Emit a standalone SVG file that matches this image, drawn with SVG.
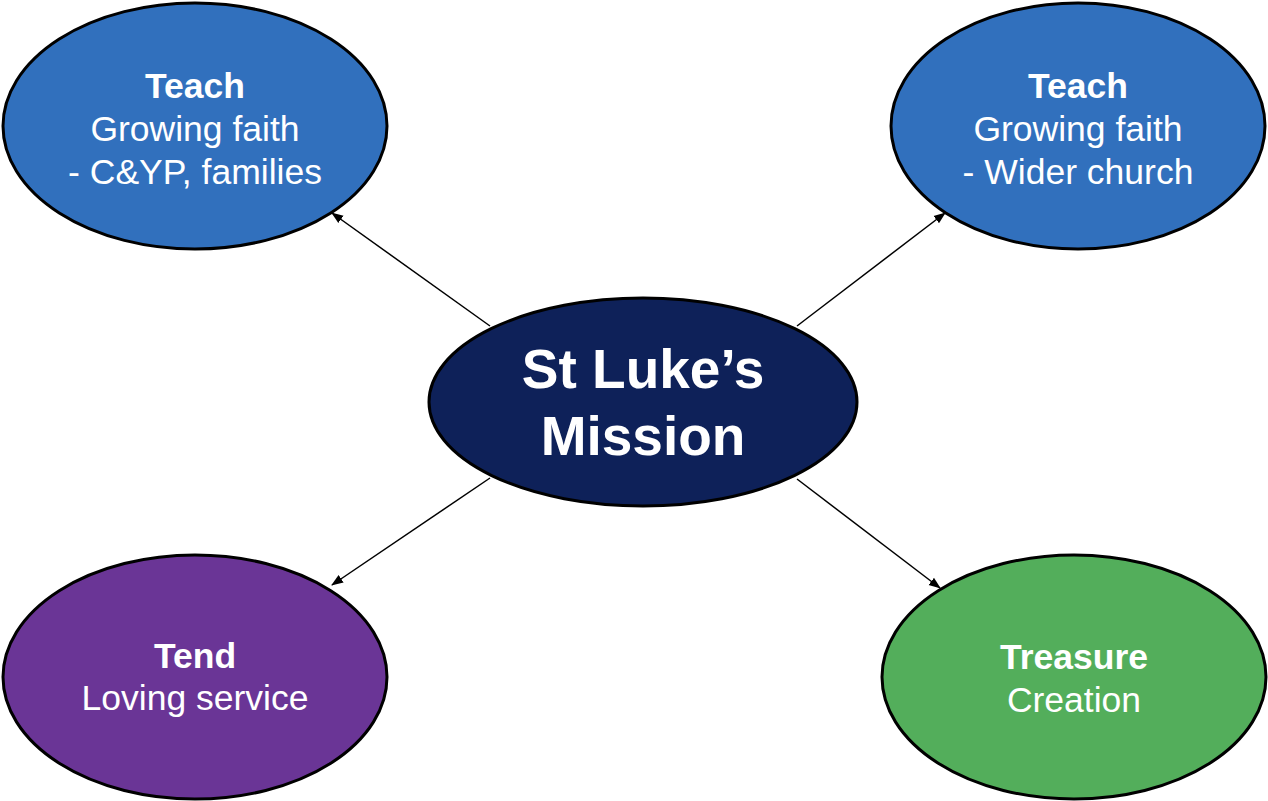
<svg xmlns="http://www.w3.org/2000/svg" width="1268" height="801" viewBox="0 0 1268 801">
<defs>
<style>
.node{stroke:#000;stroke-width:3}
.t{font-family:"Liberation Sans",Arial,sans-serif;fill:#fff;text-anchor:middle}
.b{font-weight:bold;font-size:35.5px}
.r{font-size:35.5px}
.c{font-weight:bold;font-size:55px}
.conn{stroke:#000;stroke-width:1.5;fill:none;marker-end:url(#ah)}
</style>
<marker id="ah" markerWidth="12" markerHeight="12" refX="11" refY="6" orient="auto" markerUnits="userSpaceOnUse" viewBox="0 0 12 12">
<path d="M0,1.5 L12,6 L0,10.5 Z" fill="#000"/>
</marker>
</defs>
<rect width="1268" height="801" fill="#fff"/>
<g id="connectors">
<line class="conn" x1="490" y1="326" x2="332" y2="213"/>
<line class="conn" x1="797" y1="326" x2="945" y2="213"/>
<line class="conn" x1="490" y1="478" x2="332" y2="585"/>
<line class="conn" x1="797" y1="479" x2="940" y2="588"/>
</g>
<g id="teach-left">
<ellipse class="node" cx="195" cy="126" rx="192" ry="123" fill="#3170BD"/>
<text class="t b" x="195" y="98">Teach</text>
<text class="t r" x="195" y="141">Growing faith</text>
<text class="t r" x="195" y="184">- C&amp;YP, families</text>
</g>
<g id="teach-right">
<ellipse class="node" cx="1078" cy="126" rx="187" ry="123" fill="#3170BD"/>
<text class="t b" x="1078" y="98">Teach</text>
<text class="t r" x="1078" y="141">Growing faith</text>
<text class="t r" x="1078" y="184">- Wider church</text>
</g>
<g id="center">
<ellipse class="node" cx="643" cy="402" rx="214" ry="104" fill="#0E2159"/>
<text class="t c" x="643" y="388">St Luke’s</text>
<text class="t c" x="643" y="455">Mission</text>
</g>
<g id="tend">
<ellipse class="node" cx="195" cy="677" rx="192" ry="122" fill="#6A3596"/>
<text class="t b" x="195" y="668">Tend</text>
<text class="t r" x="195" y="710">Loving service</text>
</g>
<g id="treasure">
<ellipse class="node" cx="1074" cy="677" rx="192" ry="122" fill="#53AE5B"/>
<text class="t b" x="1074" y="669">Treasure</text>
<text class="t r" x="1074" y="712">Creation</text>
</g>
</svg>
